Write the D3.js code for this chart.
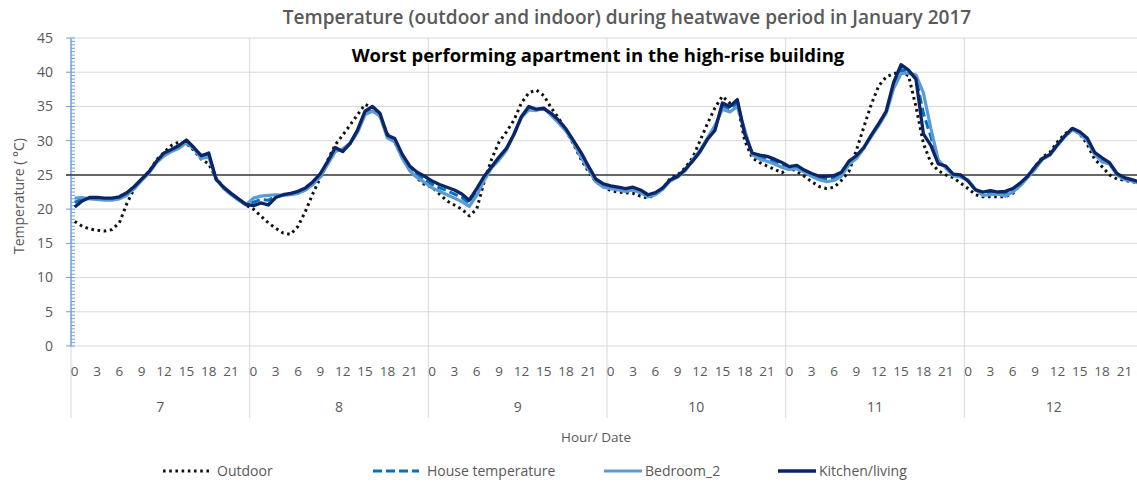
<!DOCTYPE html>
<html><head><meta charset="utf-8">
<script src="https://cdn.jsdelivr.net/npm/d3@7"></script>
<style>body{margin:0;background:#fff} svg{display:block} text{font-family:"Open Sans",sans-serif}</style>
</head><body><svg id="c" width="1137" height="486"></svg>
<script>
const days = ["7","8","9","10","11","12"];
const hours = [0,1,2,3,4,5,6,7,8,9,10,11,12,13,14,15,16,17,18,19,20,21,22,23];
const hourTickLabels = [0,3,6,9,12,15,18,21];
const yTicks = [0,5,10,15,20,25,30,35,40,45];
const threshold = 25;

const outdoor = [
18.2,17.5,17.1,16.9,16.8,17.0,18.0,20.8,23.0,24.3,25.5,27.2,28.3,29.3,29.8,29.6,28.6,27.3,26.6,24.5,23.2,22.3,21.4,20.6,
20.0,19.0,18.0,17.2,16.5,16.3,17.5,19.7,22.3,24.6,27.2,29.4,30.8,32.3,33.8,35.3,34.8,33.5,31.0,29.8,27.6,25.8,24.5,23.6,
23.2,22.2,21.2,20.6,20.0,19.0,20.0,24.0,27.3,29.8,31.3,33.0,35.5,37.0,37.4,36.6,34.8,33.3,31.5,29.5,27.3,25.5,24.0,23.3,
22.7,22.5,22.4,22.3,21.9,21.6,22.2,23.0,24.5,25.0,26.0,27.5,30.0,32.5,34.8,36.5,35.5,35.5,30.0,27.5,26.8,26.3,25.8,25.3,
26.0,25.5,24.8,24.0,23.3,23.0,23.2,24.2,25.5,28.6,32.0,35.3,38.0,39.3,39.8,40.0,39.5,35.0,29.6,26.8,25.6,25.0,24.6,23.8,
23.0,22.1,21.8,21.8,21.8,21.8,22.3,23.5,24.8,26.2,27.6,28.3,29.8,31.0,31.7,31.0,29.5,27.3,26.2,25.0,24.4,24.2,24.0,23.8];

const house = [
21.0,21.5,21.6,21.5,21.5,21.5,21.6,22.2,23.1,24.3,25.4,26.9,28.0,28.6,29.1,29.9,28.9,27.6,27.9,24.4,23.1,22.2,21.4,20.7,
21.0,21.4,21.3,21.9,22.0,22.2,22.4,22.9,23.8,24.9,26.8,28.7,28.6,29.6,31.4,34.0,34.6,33.8,30.6,30.1,27.7,26.0,25.0,24.3,
23.6,23.1,22.7,22.2,21.7,20.9,22.5,24.5,26.1,27.4,28.7,30.9,33.4,34.7,34.5,34.7,33.9,32.8,31.6,29.9,28.0,26.0,24.2,23.4,
23.2,23.0,22.8,23.0,22.6,22.0,22.2,23.0,24.2,24.7,25.7,27.1,28.5,30.3,31.8,35.1,34.6,35.5,31.3,28.1,27.6,27.3,26.9,26.4,
26.0,26.1,25.6,25.0,24.6,24.4,24.5,25.1,26.7,27.6,28.9,30.7,32.3,34.1,38.0,40.4,40.0,39.3,34.0,30.6,26.9,26.1,25.0,24.8,
24.2,22.9,22.2,22.4,22.3,22.2,22.7,23.6,24.7,26.0,27.3,27.9,29.3,30.6,31.7,31.1,30.2,28.1,27.2,26.7,25.1,24.4,24.2,23.9];

const bedroom = [
21.6,21.7,21.5,21.4,21.3,21.3,21.5,22.0,23.0,24.2,25.3,26.8,27.8,28.4,28.9,29.7,28.8,27.4,27.6,24.5,23.0,22.1,21.3,20.6,
21.6,21.9,22.0,22.1,22.0,22.1,22.3,22.8,23.6,24.7,26.6,28.4,28.8,29.6,31.2,33.8,34.3,33.6,30.4,29.8,27.4,25.6,24.6,23.9,
23.1,22.6,22.1,21.6,21.1,20.4,22.0,24.2,26.0,27.2,28.6,31.0,33.4,34.5,34.4,34.8,33.7,32.6,31.4,29.7,27.6,25.8,24.0,23.2,
23.0,22.8,22.6,22.8,22.4,21.8,22.1,22.9,24.1,24.7,25.6,27.2,28.6,30.4,32.2,34.6,34.2,35.0,31.6,28.0,27.3,27.0,26.6,26.1,
25.8,25.9,25.4,24.8,24.3,24.0,24.2,24.8,26.5,27.4,28.9,30.6,32.2,34.0,37.6,39.8,39.9,39.6,37.0,31.8,27.2,26.0,24.9,24.7,
24.2,22.9,22.0,22.1,22.2,21.9,22.5,23.4,24.6,25.8,27.3,27.9,29.3,30.6,31.6,31.0,30.0,28.0,26.9,26.6,25.0,24.3,24.1,23.8];

const kitchen = [
20.3,21.2,21.7,21.7,21.6,21.6,21.8,22.4,23.3,24.4,25.5,27.0,28.2,28.7,29.3,30.1,29.0,27.8,28.2,24.3,23.2,22.3,21.5,20.7,
20.5,20.9,20.6,21.7,22.1,22.3,22.6,23.1,24.0,25.2,27.0,29.0,28.4,29.6,31.6,34.3,35.0,34.0,30.8,30.3,28.0,26.3,25.4,24.8,
24.1,23.6,23.2,22.8,22.2,21.3,23.0,24.8,26.2,27.6,28.9,30.9,33.5,35.0,34.6,34.7,34.0,33.0,31.7,30.0,28.3,26.3,24.4,23.7,
23.4,23.2,23.0,23.2,22.8,22.1,22.4,23.1,24.3,24.8,25.8,27.0,28.4,30.2,31.5,35.5,35.0,36.0,31.0,28.2,27.9,27.7,27.3,26.8,
26.2,26.4,25.7,25.2,24.8,24.8,24.9,25.4,27.0,27.8,29.0,30.8,32.5,34.3,38.5,41.1,40.3,39.0,31.0,29.3,26.6,26.3,25.1,25.0,
24.1,22.8,22.5,22.7,22.5,22.6,23.0,23.8,24.8,26.2,27.4,28.0,29.4,30.7,31.8,31.3,30.4,28.3,27.5,26.8,25.2,24.6,24.3,24.0];

const seriesNames = ["Outdoor","House temperature","Bedroom_2","Kitchen/living"];

const svg = d3.select("#c");
const W = 1137, H = 486;
const L = 71, R = 1143, T = 38, B = 346;
const grey = "#595959";

const keys = [];
days.forEach(d => hours.forEach(h => keys.push(d + "|" + h)));
const x = d3.scaleBand().domain(keys).range([L, R]).paddingInner(0).paddingOuter(0);
const xc = k => x(k) + x.bandwidth() / 2;
const xd = d3.scaleBand().domain(days).range([L, R]);
const y = d3.scaleLinear().domain([0, 45]).range([B, T]);

// horizontal gridlines
svg.append("g").selectAll("line").data(yTicks).join("line")
  .attr("x1", L).attr("x2", W).attr("y1", d => y(d)).attr("y2", d => y(d))
  .attr("stroke", "#d9d9d9").attr("stroke-width", 1);

// vertical day separators
svg.append("g").selectAll("line").data(days).join("line")
  .attr("x1", d => xd(d)).attr("x2", d => xd(d))
  .attr("y1", (d, i) => i === 0 ? B : T).attr("y2", 418)
  .attr("stroke", "#d9d9d9").attr("stroke-width", 1);

// y axis (blue with minor ticks)
const yAxisG = svg.append("g");
yAxisG.append("line").attr("x1", L).attr("x2", L).attr("y1", y(45)).attr("y2", y(0))
  .attr("stroke", "#6fa0dc").attr("stroke-width", 1.5);
const minor = d3.range(0, 45.01, 0.5);
yAxisG.selectAll("line.mi").data(minor).join("line").attr("class", "mi")
  .attr("x1", d => d % 5 === 0 ? L - 5 : L).attr("x2", L + 4)
  .attr("y1", d => y(d)).attr("y2", d => y(d))
  .attr("stroke", "#6fa0dc").attr("stroke-width", 1);

// y tick labels
svg.append("g").selectAll("text").data(yTicks).join("text")
  .attr("x", 53).attr("y", d => y(d)).attr("dy", "0.35em").attr("text-anchor", "end")
  .attr("fill", grey).attr("font-size", 14).text(d => d);

// threshold line
svg.append("line").attr("x1", 66).attr("x2", W).attr("y1", y(threshold)).attr("y2", y(threshold))
  .attr("stroke", "#3a3a3a").attr("stroke-width", 1.5);

// lines
const line = d3.line().x((d, i) => xc(keys[i])).y(d => y(d));
const styles = [
  {data: outdoor, color: "#111", width: 3, dash: "2.6,3.6"},
  {data: house, color: "#0070c0", width: 3, dash: "9,4"},
  {data: bedroom, color: "#5b9bd5", width: 3.2, dash: null},
  {data: kitchen, color: "#0b2566", width: 3.3, dash: null}
];
styles.forEach(s => {
  svg.append("path").datum(s.data).attr("d", line)
    .attr("fill", "none").attr("stroke", s.color).attr("stroke-width", s.width)
    .attr("stroke-linejoin", "round")
    .attr("stroke-dasharray", s.dash);
});

// hour tick labels
const hourKeys = [];
days.forEach(d => hourTickLabels.forEach(h => hourKeys.push({k: d + "|" + h, h})));
svg.append("g").selectAll("text").data(hourKeys).join("text")
  .attr("x", d => xc(d.k)).attr("y", 376).attr("text-anchor", "middle")
  .attr("fill", grey).attr("font-size", 13.5).text(d => d.h);

// day labels
svg.append("g").selectAll("text").data(days).join("text")
  .attr("x", d => xd(d) + xd.bandwidth() / 2).attr("y", 412).attr("text-anchor", "middle")
  .attr("fill", grey).attr("font-size", 14).text(d => d);

// axis titles
svg.append("text").attr("x", 596).attr("y", 442).attr("text-anchor", "middle")
  .attr("fill", grey).attr("font-size", 13.5).text("Hour/ Date");
svg.append("text").attr("transform", "translate(24,196) rotate(-90)").attr("text-anchor", "middle")
  .attr("fill", grey).attr("font-size", 14).text("Temperature ( °C)");

// titles
function fit(sel, target) {
  const w = sel.node().getComputedTextLength();
  const fs = parseFloat(sel.attr("font-size"));
  sel.attr("font-size", (fs * target / w).toFixed(2));
}
const t1 = svg.append("text").attr("x", 627).attr("y", 24).attr("text-anchor", "middle")
  .attr("fill", grey).attr("font-weight", 600).attr("font-size", 15)
  .text("Temperature (outdoor and indoor) during heatwave period in January 2017");
fit(t1, 689);
const t2 = svg.append("text").attr("x", 598).attr("y", 62).attr("text-anchor", "middle")
  .attr("fill", "#000").attr("font-weight", 700).attr("font-size", 16)
  .text("Worst performing apartment in the high-rise building");
fit(t2, 493);

// legend
const leg = [
  {x1: 163, x2: 211, tx: 217},
  {x1: 373, x2: 419, tx: 427},
  {x1: 604, x2: 642, tx: 645},
  {x1: 778, x2: 816, tx: 819}
];
const lg = svg.append("g");
leg.forEach((p, i) => {
  const s = styles[i];
  lg.append("line").attr("x1", p.x1).attr("x2", p.x2).attr("y1", 471).attr("y2", 471)
    .attr("stroke", s.color).attr("stroke-width", s.width).attr("stroke-dasharray", s.dash);
  lg.append("text").attr("x", p.tx).attr("y", 471).attr("dy", "0.35em")
    .attr("fill", grey).attr("font-size", 14).text(seriesNames[i]);
});
</script></body></html>
